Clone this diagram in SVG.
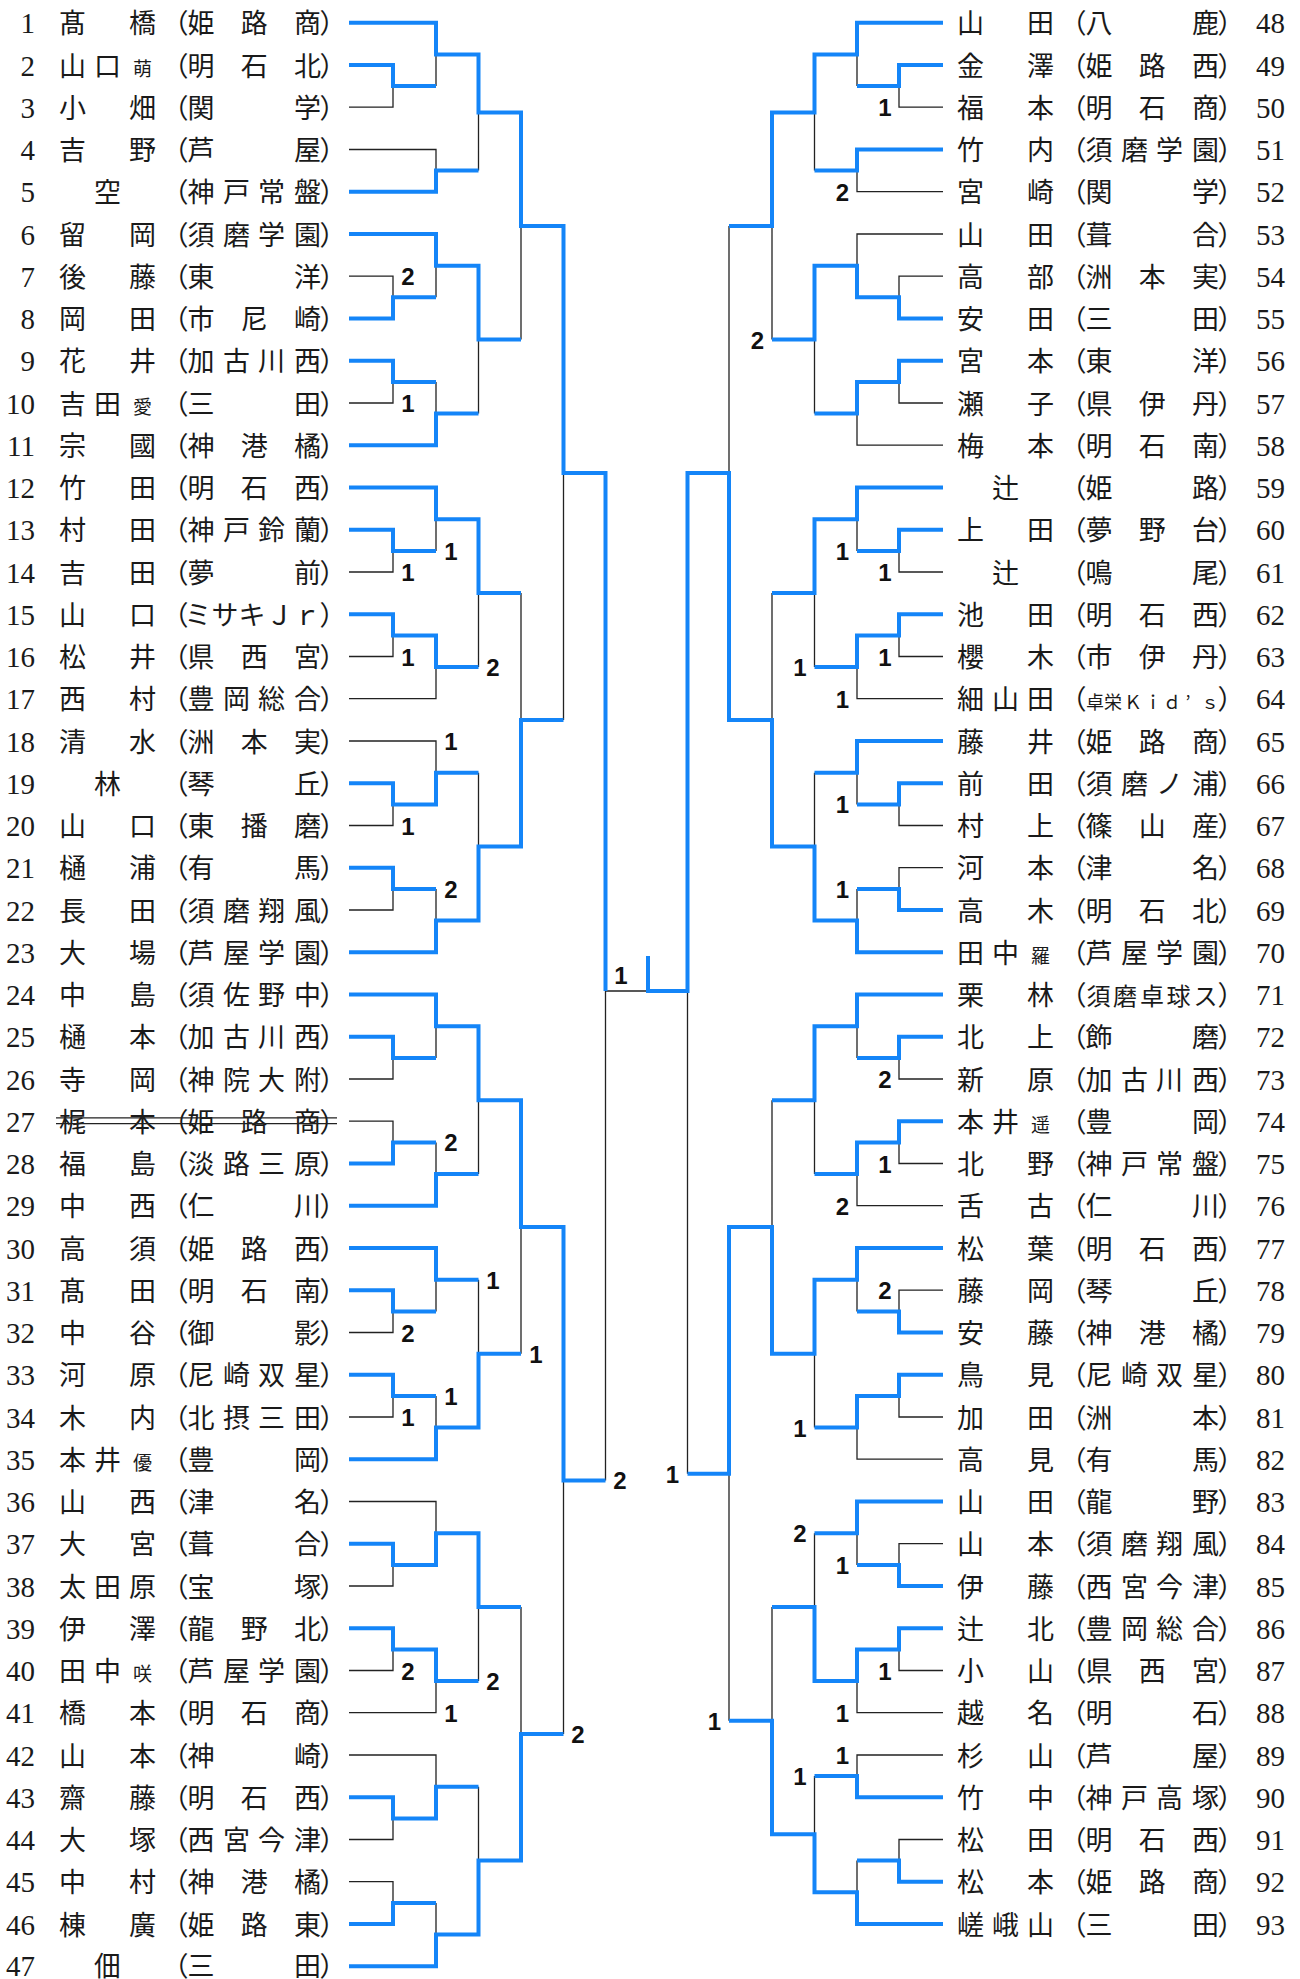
<svg xmlns="http://www.w3.org/2000/svg" width="1300" height="1979" viewBox="0 0 1300 1979">
<style>
.n{font-family:"Liberation Serif",serif;font-size:29px;fill:#1a1a1a}
.nl{text-anchor:end}
.t{font-family:"Noto Sans CJK JP","Noto Sans CJK SC",sans-serif;font-size:27px;fill:#1a1a1a;text-anchor:middle}
.s{font-size:19px}
.x{font-size:18px}
.m{font-size:24px}
.lb{font-family:"Liberation Sans",Arial,sans-serif;font-weight:bold;font-size:24px;fill:#111;text-anchor:middle}
.bl{fill:none;stroke:#1485f8;stroke-width:4;stroke-linejoin:miter}
.bk{fill:none;stroke:#222;stroke-width:1.3}
</style>
<rect width="1300" height="1979" fill="#fff"/>
<g id="connectors">
<path class="bk" d="M349 107.2H393V86.1 M349 149.5H436V170.6 M349 276.2H393V297.3 M349 403H393V381.9 M349 572H393V550.9 M349 656.5H393V635.4 M349 698.7H436V667 M349 741H436V772.7 M349 825.5H393V804.4 M349 910H393V888.9 M349 1079H393V1057.9 M349 1121.2H393V1142.4 M349 1332.5H393V1311.4 M349 1417H393V1395.9 M349 1501.5H436V1533.2 M349 1586H393V1564.9 M349 1670.5H393V1649.4 M349 1712.7H436V1681.1 M349 1755H436V1786.7 M349 1839.5H393V1818.4 M349 1881.7H393V1902.9
M436 86.1V54.4 M478.5 170.6V112.5 M436 297.3V265.7 M436 381.9V413.5 M478.5 413.5V339.6 M521 339.6V226 M436 550.9V519.2 M478.5 667V593.1 M436 888.9V920.5 M478.5 772.7V846.6 M521 593.1V719.9 M563.5 719.9V473 M436 1057.9V1026.2 M436 1142.4V1174.1 M478.5 1174.1V1100.2 M436 1311.4V1279.7 M436 1395.9V1427.6 M478.5 1279.7V1353.7 M521 1353.7V1226.9 M478.5 1681.1V1607.1 M436 1902.9V1934.6 M478.5 1786.7V1860.6 M521 1607.1V1733.9 M563.5 1733.9V1480.4 M605.5 1480.4V991 M605.5 991H648
M943 107.2H899V86.1 M943 191.7H857V170.6 M943 234H857V265.7 M943 276.2H899V297.3 M943 403H899V381.9 M943 445.2H857V413.5 M943 572H899V550.9 M943 656.5H899V635.4 M943 698.7H857V667 M943 825.5H899V804.4 M943 867.7H899V888.9 M943 1079H899V1057.9 M943 1163.5H899V1142.4 M943 1205.7H857V1174.1 M943 1290.2H899V1311.4 M943 1417H899V1395.9 M943 1459.2H857V1427.6 M943 1543.7H899V1564.9 M943 1670.5H899V1649.4 M943 1712.7H857V1681.1 M943 1755H857V1776.1 M943 1839.5H899V1860.6
M857 86.1V54.4 M814.5 170.6V112.5 M814.5 413.5V339.6 M772 339.6V226 M857 550.9V519.2 M814.5 667V593.1 M857 804.4V772.7 M857 888.9V920.5 M814.5 772.7V846.6 M772 593.1V719.9 M729 226V473 M857 1057.9V1026.2 M814.5 1174.1V1100.2 M857 1311.4V1279.7 M814.5 1427.6V1353.7 M772 1100.2V1226.9 M857 1564.9V1533.2 M814.5 1533.2V1607.1 M857 1860.6V1892.3 M814.5 1776.1V1834.2 M772 1607.1V1720.7 M729 1720.7V1473.8 M687.5 1473.8V991"/>
<path class="bl" d="M349 22.7H436V54.4H478.5V112.5H521V226H563.5V473H605.5V991
M349 65H393V86.1H436 M349 191.7H436V170.6H478.5 M349 234H436V265.7H478.5V339.6H521 M349 318.5H393V297.3H436 M349 360.7H393V381.9H436 M349 445.2H436V413.5H478.5 M349 487.5H436V519.2H478.5V593.1H521 M349 529.7H393V550.9H436 M349 614.2H393V635.4H436V667H478.5 M349 783.2H393V804.4H436V772.7H478.5 M349 867.7H393V888.9H436 M349 952.2H436V920.5H478.5V846.6H521V719.9H563.5
M349 994.5H436V1026.2H478.5V1100.2H521V1226.9H563.5V1480.4H605.5 M349 1036.7H393V1057.9H436 M349 1163.5H393V1142.4H436 M349 1205.7H436V1174.1H478.5 M349 1248H436V1279.7H478.5 M349 1290.2H393V1311.4H436 M349 1374.7H393V1395.9H436 M349 1459.2H436V1427.6H478.5V1353.7H521 M349 1543.7H393V1564.9H436V1533.2H478.5V1607.1H521 M349 1628.2H393V1649.4H436V1681.1H478.5 M349 1797.2H393V1818.4H436V1786.7H478.5 M349 1924H393V1902.9H436 M349 1966.2H436V1934.6H478.5V1860.6H521V1733.9H563.5
M943 22.7H857V54.4H814.5V112.5H772V226H729 M943 65H899V86.1H857 M943 149.5H857V170.6H814.5 M943 318.5H899V297.3H857V265.7H814.5V339.6H772 M943 360.7H899V381.9H857V413.5H814.5 M943 487.5H857V519.2H814.5V593.1H772 M943 529.7H899V550.9H857 M943 614.2H899V635.4H857V667H814.5 M943 741H857V772.7H814.5 M943 783.2H899V804.4H857 M943 910H899V888.9H857
M943 952.2H857V920.5H814.5V846.6H772V719.9H729V473H687.5V991H648V956
M943 994.5H857V1026.2H814.5V1100.2H772 M943 1036.7H899V1057.9H857 M943 1121.2H899V1142.4H857V1174.1H814.5 M943 1248H857V1279.7H814.5V1353.7H772V1226.9H729V1473.8H687.5 M943 1332.5H899V1311.4H857 M943 1374.7H899V1395.9H857V1427.6H814.5 M943 1501.5H857V1533.2H814.5 M943 1586H899V1564.9H857 M943 1628.2H899V1649.4H857V1681.1H814.5V1607.1H772 M943 1797.2H857V1776.1H814.5 M943 1881.7H899V1860.6H857 M943 1924H857V1892.3H814.5V1834.2H772V1720.7H729"/>
</g>
<g id="scores">
<text class="lb" x="408" y="285.2">2</text><text class="lb" x="408" y="412">1</text><text class="lb" x="451" y="559.9">1</text><text class="lb" x="408" y="581">1</text><text class="lb" x="408" y="665.5">1</text><text class="lb" x="493" y="676">2</text><text class="lb" x="451" y="750">1</text><text class="lb" x="408" y="834.5">1</text><text class="lb" x="451" y="897.9">2</text><text class="lb" x="451" y="1151.4">2</text><text class="lb" x="493" y="1288.7">1</text><text class="lb" x="408" y="1341.5">2</text><text class="lb" x="451" y="1404.9">1</text><text class="lb" x="408" y="1426">1</text><text class="lb" x="536" y="1362.7">1</text><text class="lb" x="620" y="1489.4">2</text><text class="lb" x="408" y="1679.5">2</text><text class="lb" x="493" y="1690.1">2</text><text class="lb" x="451" y="1721.7">1</text><text class="lb" x="578" y="1742.9">2</text><text class="lb" x="621" y="984">1</text>
<text class="lb" x="885" y="116.2">1</text><text class="lb" x="842.5" y="200.7">2</text><text class="lb" x="757.5" y="348.6">2</text><text class="lb" x="842.5" y="559.9">1</text><text class="lb" x="885" y="581">1</text><text class="lb" x="885" y="665.5">1</text><text class="lb" x="800" y="676">1</text><text class="lb" x="842.5" y="707.7">1</text><text class="lb" x="842.5" y="813.4">1</text><text class="lb" x="842.5" y="897.9">1</text><text class="lb" x="885" y="1088">2</text><text class="lb" x="885" y="1172.5">1</text><text class="lb" x="842.5" y="1214.7">2</text><text class="lb" x="885" y="1299.2">2</text><text class="lb" x="800" y="1436.6">1</text><text class="lb" x="672.5" y="1482.8">1</text><text class="lb" x="800" y="1542.2">2</text><text class="lb" x="842.5" y="1573.9">1</text><text class="lb" x="885" y="1679.5">1</text><text class="lb" x="842.5" y="1721.7">1</text><text class="lb" x="714.5" y="1729.7">1</text><text class="lb" x="842.5" y="1764">1</text><text class="lb" x="800" y="1785.1">1</text>
</g>
<g id="p1"><text class="n nl" x="35" y="33.2">1</text><text class="t" y="33.2"><tspan x="72.5 142.5">髙橋</tspan><tspan x="175 201 254.3 307.5 333">（姫路商）</tspan></text></g>
<g id="p2"><text class="n nl" x="35" y="75.5">2</text><text class="t" y="75.5"><tspan x="72.5 107.5">山口</tspan><tspan class="s" x="142.5">萌</tspan><tspan x="175 201 254.3 307.5 333">（明石北）</tspan></text></g>
<g id="p3"><text class="n nl" x="35" y="117.7">3</text><text class="t" y="117.7"><tspan x="72.5 142.5">小畑</tspan><tspan x="175 201 307.5 333">（関学）</tspan></text></g>
<g id="p4"><text class="n nl" x="35" y="160">4</text><text class="t" y="160"><tspan x="72.5 142.5">吉野</tspan><tspan x="175 201 307.5 333">（芦屋）</tspan></text></g>
<g id="p5"><text class="n nl" x="35" y="202.2">5</text><text class="t" y="202.2"><tspan x="107.5">空</tspan><tspan x="175 201 236.5 271.5 307.5 333">（神戸常盤）</tspan></text></g>
<g id="p6"><text class="n nl" x="35" y="244.5">6</text><text class="t" y="244.5"><tspan x="72.5 142.5">留岡</tspan><tspan x="175 201 236.5 271.5 307.5 333">（須磨学園）</tspan></text></g>
<g id="p7"><text class="n nl" x="35" y="286.7">7</text><text class="t" y="286.7"><tspan x="72.5 142.5">後藤</tspan><tspan x="175 201 307.5 333">（東洋）</tspan></text></g>
<g id="p8"><text class="n nl" x="35" y="329">8</text><text class="t" y="329"><tspan x="72.5 142.5">岡田</tspan><tspan x="175 201 254.3 307.5 333">（市尼崎）</tspan></text></g>
<g id="p9"><text class="n nl" x="35" y="371.2">9</text><text class="t" y="371.2"><tspan x="72.5 142.5">花井</tspan><tspan x="175 201 236.5 271.5 307.5 333">（加古川西）</tspan></text></g>
<g id="p10"><text class="n nl" x="35" y="413.5">10</text><text class="t" y="413.5"><tspan x="72.5 107.5">吉田</tspan><tspan class="s" x="142.5">愛</tspan><tspan x="175 201 307.5 333">（三田）</tspan></text></g>
<g id="p11"><text class="n nl" x="35" y="455.7">11</text><text class="t" y="455.7"><tspan x="72.5 142.5">宗國</tspan><tspan x="175 201 254.3 307.5 333">（神港橘）</tspan></text></g>
<g id="p12"><text class="n nl" x="35" y="498">12</text><text class="t" y="498"><tspan x="72.5 142.5">竹田</tspan><tspan x="175 201 254.3 307.5 333">（明石西）</tspan></text></g>
<g id="p13"><text class="n nl" x="35" y="540.2">13</text><text class="t" y="540.2"><tspan x="72.5 142.5">村田</tspan><tspan x="175 201 236.5 271.5 307.5 333">（神戸鈴蘭）</tspan></text></g>
<g id="p14"><text class="n nl" x="35" y="582.5">14</text><text class="t" y="582.5"><tspan x="72.5 142.5">吉田</tspan><tspan x="175 201 307.5 333">（夢前）</tspan></text></g>
<g id="p15"><text class="n nl" x="35" y="624.7">15</text><text class="t" y="624.7"><tspan x="72.5 142.5">山口</tspan><tspan x="175 198 225 252 279.5 307 333">（ミサキＪｒ）</tspan></text></g>
<g id="p16"><text class="n nl" x="35" y="667">16</text><text class="t" y="667"><tspan x="72.5 142.5">松井</tspan><tspan x="175 201 254.3 307.5 333">（県西宮）</tspan></text></g>
<g id="p17"><text class="n nl" x="35" y="709.2">17</text><text class="t" y="709.2"><tspan x="72.5 142.5">西村</tspan><tspan x="175 201 236.5 271.5 307.5 333">（豊岡総合）</tspan></text></g>
<g id="p18"><text class="n nl" x="35" y="751.5">18</text><text class="t" y="751.5"><tspan x="72.5 142.5">清水</tspan><tspan x="175 201 254.3 307.5 333">（洲本実）</tspan></text></g>
<g id="p19"><text class="n nl" x="35" y="793.7">19</text><text class="t" y="793.7"><tspan x="107.5">林</tspan><tspan x="175 201 307.5 333">（琴丘）</tspan></text></g>
<g id="p20"><text class="n nl" x="35" y="836">20</text><text class="t" y="836"><tspan x="72.5 142.5">山口</tspan><tspan x="175 201 254.3 307.5 333">（東播磨）</tspan></text></g>
<g id="p21"><text class="n nl" x="35" y="878.2">21</text><text class="t" y="878.2"><tspan x="72.5 142.5">樋浦</tspan><tspan x="175 201 307.5 333">（有馬）</tspan></text></g>
<g id="p22"><text class="n nl" x="35" y="920.5">22</text><text class="t" y="920.5"><tspan x="72.5 142.5">長田</tspan><tspan x="175 201 236.5 271.5 307.5 333">（須磨翔風）</tspan></text></g>
<g id="p23"><text class="n nl" x="35" y="962.7">23</text><text class="t" y="962.7"><tspan x="72.5 142.5">大場</tspan><tspan x="175 201 236.5 271.5 307.5 333">（芦屋学園）</tspan></text></g>
<g id="p24"><text class="n nl" x="35" y="1005">24</text><text class="t" y="1005"><tspan x="72.5 142.5">中島</tspan><tspan x="175 201 236.5 271.5 307.5 333">（須佐野中）</tspan></text></g>
<g id="p25"><text class="n nl" x="35" y="1047.2">25</text><text class="t" y="1047.2"><tspan x="72.5 142.5">樋本</tspan><tspan x="175 201 236.5 271.5 307.5 333">（加古川西）</tspan></text></g>
<g id="p26"><text class="n nl" x="35" y="1089.5">26</text><text class="t" y="1089.5"><tspan x="72.5 142.5">寺岡</tspan><tspan x="175 201 236.5 271.5 307.5 333">（神院大附）</tspan></text></g>
<g id="p27"><text class="n nl" x="35" y="1131.7">27</text><text class="t" y="1131.7"><tspan x="72.5 142.5">梶本</tspan><tspan x="175 201 254.3 307.5 333">（姫路商）</tspan></text><path class="bk" d="M56 1117.8H337 M56 1123.6H337"/></g>
<g id="p28"><text class="n nl" x="35" y="1174">28</text><text class="t" y="1174"><tspan x="72.5 142.5">福島</tspan><tspan x="175 201 236.5 271.5 307.5 333">（淡路三原）</tspan></text></g>
<g id="p29"><text class="n nl" x="35" y="1216.2">29</text><text class="t" y="1216.2"><tspan x="72.5 142.5">中西</tspan><tspan x="175 201 307.5 333">（仁川）</tspan></text></g>
<g id="p30"><text class="n nl" x="35" y="1258.5">30</text><text class="t" y="1258.5"><tspan x="72.5 142.5">高須</tspan><tspan x="175 201 254.3 307.5 333">（姫路西）</tspan></text></g>
<g id="p31"><text class="n nl" x="35" y="1300.7">31</text><text class="t" y="1300.7"><tspan x="72.5 142.5">髙田</tspan><tspan x="175 201 254.3 307.5 333">（明石南）</tspan></text></g>
<g id="p32"><text class="n nl" x="35" y="1343">32</text><text class="t" y="1343"><tspan x="72.5 142.5">中谷</tspan><tspan x="175 201 307.5 333">（御影）</tspan></text></g>
<g id="p33"><text class="n nl" x="35" y="1385.2">33</text><text class="t" y="1385.2"><tspan x="72.5 142.5">河原</tspan><tspan x="175 201 236.5 271.5 307.5 333">（尼崎双星）</tspan></text></g>
<g id="p34"><text class="n nl" x="35" y="1427.5">34</text><text class="t" y="1427.5"><tspan x="72.5 142.5">木内</tspan><tspan x="175 201 236.5 271.5 307.5 333">（北摂三田）</tspan></text></g>
<g id="p35"><text class="n nl" x="35" y="1469.7">35</text><text class="t" y="1469.7"><tspan x="72.5 107.5">本井</tspan><tspan class="s" x="142.5">優</tspan><tspan x="175 201 307.5 333">（豊岡）</tspan></text></g>
<g id="p36"><text class="n nl" x="35" y="1512">36</text><text class="t" y="1512"><tspan x="72.5 142.5">山西</tspan><tspan x="175 201 307.5 333">（津名）</tspan></text></g>
<g id="p37"><text class="n nl" x="35" y="1554.2">37</text><text class="t" y="1554.2"><tspan x="72.5 142.5">大宮</tspan><tspan x="175 201 307.5 333">（葺合）</tspan></text></g>
<g id="p38"><text class="n nl" x="35" y="1596.5">38</text><text class="t" y="1596.5"><tspan x="72.5 107.5 142.5">太田原</tspan><tspan x="175 201 307.5 333">（宝塚）</tspan></text></g>
<g id="p39"><text class="n nl" x="35" y="1638.7">39</text><text class="t" y="1638.7"><tspan x="72.5 142.5">伊澤</tspan><tspan x="175 201 254.3 307.5 333">（龍野北）</tspan></text></g>
<g id="p40"><text class="n nl" x="35" y="1681">40</text><text class="t" y="1681"><tspan x="72.5 107.5">田中</tspan><tspan class="s" x="142.5">咲</tspan><tspan x="175 201 236.5 271.5 307.5 333">（芦屋学園）</tspan></text></g>
<g id="p41"><text class="n nl" x="35" y="1723.2">41</text><text class="t" y="1723.2"><tspan x="72.5 142.5">橋本</tspan><tspan x="175 201 254.3 307.5 333">（明石商）</tspan></text></g>
<g id="p42"><text class="n nl" x="35" y="1765.5">42</text><text class="t" y="1765.5"><tspan x="72.5 142.5">山本</tspan><tspan x="175 201 307.5 333">（神崎）</tspan></text></g>
<g id="p43"><text class="n nl" x="35" y="1807.7">43</text><text class="t" y="1807.7"><tspan x="72.5 142.5">齋藤</tspan><tspan x="175 201 254.3 307.5 333">（明石西）</tspan></text></g>
<g id="p44"><text class="n nl" x="35" y="1850">44</text><text class="t" y="1850"><tspan x="72.5 142.5">大塚</tspan><tspan x="175 201 236.5 271.5 307.5 333">（西宮今津）</tspan></text></g>
<g id="p45"><text class="n nl" x="35" y="1892.2">45</text><text class="t" y="1892.2"><tspan x="72.5 142.5">中村</tspan><tspan x="175 201 254.3 307.5 333">（神港橘）</tspan></text></g>
<g id="p46"><text class="n nl" x="35" y="1934.5">46</text><text class="t" y="1934.5"><tspan x="72.5 142.5">棟廣</tspan><tspan x="175 201 254.3 307.5 333">（姫路東）</tspan></text></g>
<g id="p47"><text class="n nl" x="35" y="1975.5">47</text><text class="t" y="1975.5"><tspan x="107.5">佃</tspan><tspan x="175 201 307.5 333">（三田）</tspan></text></g>
<g id="p48"><text class="n" x="1256" y="33.2">48</text><text class="t" y="33.2"><tspan x="970.5 1040.5">山田</tspan><tspan x="1073 1099 1205.5 1231">（八鹿）</tspan></text></g>
<g id="p49"><text class="n" x="1256" y="75.5">49</text><text class="t" y="75.5"><tspan x="970.5 1040.5">金澤</tspan><tspan x="1073 1099 1152.3 1205.5 1231">（姫路西）</tspan></text></g>
<g id="p50"><text class="n" x="1256" y="117.7">50</text><text class="t" y="117.7"><tspan x="970.5 1040.5">福本</tspan><tspan x="1073 1099 1152.3 1205.5 1231">（明石商）</tspan></text></g>
<g id="p51"><text class="n" x="1256" y="160">51</text><text class="t" y="160"><tspan x="970.5 1040.5">竹内</tspan><tspan x="1073 1099 1134.5 1169.5 1205.5 1231">（須磨学園）</tspan></text></g>
<g id="p52"><text class="n" x="1256" y="202.2">52</text><text class="t" y="202.2"><tspan x="970.5 1040.5">宮崎</tspan><tspan x="1073 1099 1205.5 1231">（関学）</tspan></text></g>
<g id="p53"><text class="n" x="1256" y="244.5">53</text><text class="t" y="244.5"><tspan x="970.5 1040.5">山田</tspan><tspan x="1073 1099 1205.5 1231">（葺合）</tspan></text></g>
<g id="p54"><text class="n" x="1256" y="286.7">54</text><text class="t" y="286.7"><tspan x="970.5 1040.5">高部</tspan><tspan x="1073 1099 1152.3 1205.5 1231">（洲本実）</tspan></text></g>
<g id="p55"><text class="n" x="1256" y="329">55</text><text class="t" y="329"><tspan x="970.5 1040.5">安田</tspan><tspan x="1073 1099 1205.5 1231">（三田）</tspan></text></g>
<g id="p56"><text class="n" x="1256" y="371.2">56</text><text class="t" y="371.2"><tspan x="970.5 1040.5">宮本</tspan><tspan x="1073 1099 1205.5 1231">（東洋）</tspan></text></g>
<g id="p57"><text class="n" x="1256" y="413.5">57</text><text class="t" y="413.5"><tspan x="970.5 1040.5">瀬子</tspan><tspan x="1073 1099 1152.3 1205.5 1231">（県伊丹）</tspan></text></g>
<g id="p58"><text class="n" x="1256" y="455.7">58</text><text class="t" y="455.7"><tspan x="970.5 1040.5">梅本</tspan><tspan x="1073 1099 1152.3 1205.5 1231">（明石南）</tspan></text></g>
<g id="p59"><text class="n" x="1256" y="498">59</text><text class="t" y="498"><tspan x="1005.5">辻</tspan><tspan x="1073 1099 1205.5 1231">（姫路）</tspan></text></g>
<g id="p60"><text class="n" x="1256" y="540.2">60</text><text class="t" y="540.2"><tspan x="970.5 1040.5">上田</tspan><tspan x="1073 1099 1152.3 1205.5 1231">（夢野台）</tspan></text></g>
<g id="p61"><text class="n" x="1256" y="582.5">61</text><text class="t" y="582.5"><tspan x="1005.5">辻</tspan><tspan x="1073 1099 1205.5 1231">（鳴尾）</tspan></text></g>
<g id="p62"><text class="n" x="1256" y="624.7">62</text><text class="t" y="624.7"><tspan x="970.5 1040.5">池田</tspan><tspan x="1073 1099 1152.3 1205.5 1231">（明石西）</tspan></text></g>
<g id="p63"><text class="n" x="1256" y="667">63</text><text class="t" y="667"><tspan x="970.5 1040.5">櫻木</tspan><tspan x="1073 1099 1152.3 1205.5 1231">（市伊丹）</tspan></text></g>
<g id="p64"><text class="n" x="1256" y="709.2">64</text><text class="t" y="709.2"><tspan x="970.5 1005.5 1040.5">細山田</tspan><tspan x="1073">（</tspan><tspan class="x" x="1095 1113 1133 1153 1172 1188 1210">卓栄Ｋｉｄ’ｓ</tspan><tspan x="1231">）</tspan></text></g>
<g id="p65"><text class="n" x="1256" y="751.5">65</text><text class="t" y="751.5"><tspan x="970.5 1040.5">藤井</tspan><tspan x="1073 1099 1152.3 1205.5 1231">（姫路商）</tspan></text></g>
<g id="p66"><text class="n" x="1256" y="793.7">66</text><text class="t" y="793.7"><tspan x="970.5 1040.5">前田</tspan><tspan x="1073 1099 1134.5 1169.5 1205.5 1231">（須磨ノ浦）</tspan></text></g>
<g id="p67"><text class="n" x="1256" y="836">67</text><text class="t" y="836"><tspan x="970.5 1040.5">村上</tspan><tspan x="1073 1099 1152.3 1205.5 1231">（篠山産）</tspan></text></g>
<g id="p68"><text class="n" x="1256" y="878.2">68</text><text class="t" y="878.2"><tspan x="970.5 1040.5">河本</tspan><tspan x="1073 1099 1205.5 1231">（津名）</tspan></text></g>
<g id="p69"><text class="n" x="1256" y="920.5">69</text><text class="t" y="920.5"><tspan x="970.5 1040.5">高木</tspan><tspan x="1073 1099 1152.3 1205.5 1231">（明石北）</tspan></text></g>
<g id="p70"><text class="n" x="1256" y="962.7">70</text><text class="t" y="962.7"><tspan x="970.5 1005.5">田中</tspan><tspan class="s" x="1040.5">羅</tspan><tspan x="1073 1099 1134.5 1169.5 1205.5 1231">（芦屋学園）</tspan></text></g>
<g id="p71"><text class="n" x="1256" y="1005">71</text><text class="t" y="1005"><tspan x="970.5 1040.5">栗林</tspan><tspan x="1073">（</tspan><tspan class="m" x="1098.5 1125 1152 1178.5 1205.5">須磨卓球ス</tspan><tspan x="1231">）</tspan></text></g>
<g id="p72"><text class="n" x="1256" y="1047.2">72</text><text class="t" y="1047.2"><tspan x="970.5 1040.5">北上</tspan><tspan x="1073 1099 1205.5 1231">（飾磨）</tspan></text></g>
<g id="p73"><text class="n" x="1256" y="1089.5">73</text><text class="t" y="1089.5"><tspan x="970.5 1040.5">新原</tspan><tspan x="1073 1099 1134.5 1169.5 1205.5 1231">（加古川西）</tspan></text></g>
<g id="p74"><text class="n" x="1256" y="1131.7">74</text><text class="t" y="1131.7"><tspan x="970.5 1005.5">本井</tspan><tspan class="s" x="1040.5">遥</tspan><tspan x="1073 1099 1205.5 1231">（豊岡）</tspan></text></g>
<g id="p75"><text class="n" x="1256" y="1174">75</text><text class="t" y="1174"><tspan x="970.5 1040.5">北野</tspan><tspan x="1073 1099 1134.5 1169.5 1205.5 1231">（神戸常盤）</tspan></text></g>
<g id="p76"><text class="n" x="1256" y="1216.2">76</text><text class="t" y="1216.2"><tspan x="970.5 1040.5">舌古</tspan><tspan x="1073 1099 1205.5 1231">（仁川）</tspan></text></g>
<g id="p77"><text class="n" x="1256" y="1258.5">77</text><text class="t" y="1258.5"><tspan x="970.5 1040.5">松葉</tspan><tspan x="1073 1099 1152.3 1205.5 1231">（明石西）</tspan></text></g>
<g id="p78"><text class="n" x="1256" y="1300.7">78</text><text class="t" y="1300.7"><tspan x="970.5 1040.5">藤岡</tspan><tspan x="1073 1099 1205.5 1231">（琴丘）</tspan></text></g>
<g id="p79"><text class="n" x="1256" y="1343">79</text><text class="t" y="1343"><tspan x="970.5 1040.5">安藤</tspan><tspan x="1073 1099 1152.3 1205.5 1231">（神港橘）</tspan></text></g>
<g id="p80"><text class="n" x="1256" y="1385.2">80</text><text class="t" y="1385.2"><tspan x="970.5 1040.5">鳥見</tspan><tspan x="1073 1099 1134.5 1169.5 1205.5 1231">（尼崎双星）</tspan></text></g>
<g id="p81"><text class="n" x="1256" y="1427.5">81</text><text class="t" y="1427.5"><tspan x="970.5 1040.5">加田</tspan><tspan x="1073 1099 1205.5 1231">（洲本）</tspan></text></g>
<g id="p82"><text class="n" x="1256" y="1469.7">82</text><text class="t" y="1469.7"><tspan x="970.5 1040.5">高見</tspan><tspan x="1073 1099 1205.5 1231">（有馬）</tspan></text></g>
<g id="p83"><text class="n" x="1256" y="1512">83</text><text class="t" y="1512"><tspan x="970.5 1040.5">山田</tspan><tspan x="1073 1099 1205.5 1231">（龍野）</tspan></text></g>
<g id="p84"><text class="n" x="1256" y="1554.2">84</text><text class="t" y="1554.2"><tspan x="970.5 1040.5">山本</tspan><tspan x="1073 1099 1134.5 1169.5 1205.5 1231">（須磨翔風）</tspan></text></g>
<g id="p85"><text class="n" x="1256" y="1596.5">85</text><text class="t" y="1596.5"><tspan x="970.5 1040.5">伊藤</tspan><tspan x="1073 1099 1134.5 1169.5 1205.5 1231">（西宮今津）</tspan></text></g>
<g id="p86"><text class="n" x="1256" y="1638.7">86</text><text class="t" y="1638.7"><tspan x="970.5 1040.5">辻北</tspan><tspan x="1073 1099 1134.5 1169.5 1205.5 1231">（豊岡総合）</tspan></text></g>
<g id="p87"><text class="n" x="1256" y="1681">87</text><text class="t" y="1681"><tspan x="970.5 1040.5">小山</tspan><tspan x="1073 1099 1152.3 1205.5 1231">（県西宮）</tspan></text></g>
<g id="p88"><text class="n" x="1256" y="1723.2">88</text><text class="t" y="1723.2"><tspan x="970.5 1040.5">越名</tspan><tspan x="1073 1099 1205.5 1231">（明石）</tspan></text></g>
<g id="p89"><text class="n" x="1256" y="1765.5">89</text><text class="t" y="1765.5"><tspan x="970.5 1040.5">杉山</tspan><tspan x="1073 1099 1205.5 1231">（芦屋）</tspan></text></g>
<g id="p90"><text class="n" x="1256" y="1807.7">90</text><text class="t" y="1807.7"><tspan x="970.5 1040.5">竹中</tspan><tspan x="1073 1099 1134.5 1169.5 1205.5 1231">（神戸高塚）</tspan></text></g>
<g id="p91"><text class="n" x="1256" y="1850">91</text><text class="t" y="1850"><tspan x="970.5 1040.5">松田</tspan><tspan x="1073 1099 1152.3 1205.5 1231">（明石西）</tspan></text></g>
<g id="p92"><text class="n" x="1256" y="1892.2">92</text><text class="t" y="1892.2"><tspan x="970.5 1040.5">松本</tspan><tspan x="1073 1099 1152.3 1205.5 1231">（姫路商）</tspan></text></g>
<g id="p93"><text class="n" x="1256" y="1934.5">93</text><text class="t" y="1934.5"><tspan x="970.5 1005.5 1040.5">嵯峨山</tspan><tspan x="1073 1099 1205.5 1231">（三田）</tspan></text></g>
</svg>
